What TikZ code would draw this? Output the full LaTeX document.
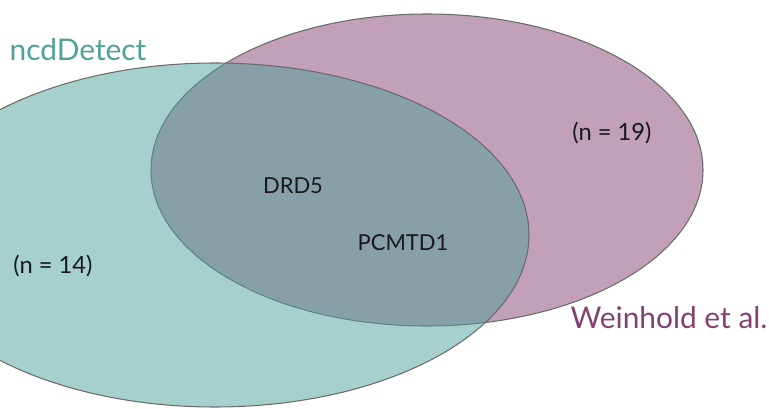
\documentclass[tikz,border=0pt]{standalone}
\usepackage{fontspec}
\setmainfont{Lato}
\usepackage{xcolor}
\usepackage{tikz}
\usetikzlibrary{positioning}

\definecolor{ncdteal}{HTML}{4EA199}
\definecolor{weinpurple}{HTML}{834171}
\definecolor{setedge}{HTML}{6A6A6A}

\begin{document}
\begin{tikzpicture}[
        x=0.02cm, y=-0.02cm,
        set/.style={draw=setedge, line width=0.6pt, fill opacity=0.5},
        setname/.style={font=\fontsize{17}{20}\selectfont, inner sep=0pt},
        gene/.style={font=\fontsize{12.5}{15}\selectfont, text=black!90, inner sep=0pt},
        count/.style={font=\fontsize{13.5}{16}\selectfont, text=black!90, inner sep=0pt},
      ]

      \useasboundingbox (0,0) rectangle (769,409);
      \clip (0,0) rectangle (769,409);

      % the two sets, the later one lies over the earlier
      \filldraw[set, fill=weinpurple] (427,170) ellipse [x radius=276, y radius=156];
      \filldraw[set, fill=ncdteal] (215,235) ellipse [x radius=314, y radius=172];

      \node[setname, text=ncdteal] (ncd) at (78,50) {ncdDetect};
      \node[setname, text=weinpurple] (wein) at (669,318) {Weinhold et al.};

      \node[count] (n14) at (53,266) {(n = 14)};
      \node[count] (n19) at (612,133) {(n = 19)};

      \node[gene] (drd) at (293,186) {DRD5};
      \node[gene] (pcm) at (403,243) {PCMTD1};
    \end{tikzpicture}
\end{document}
